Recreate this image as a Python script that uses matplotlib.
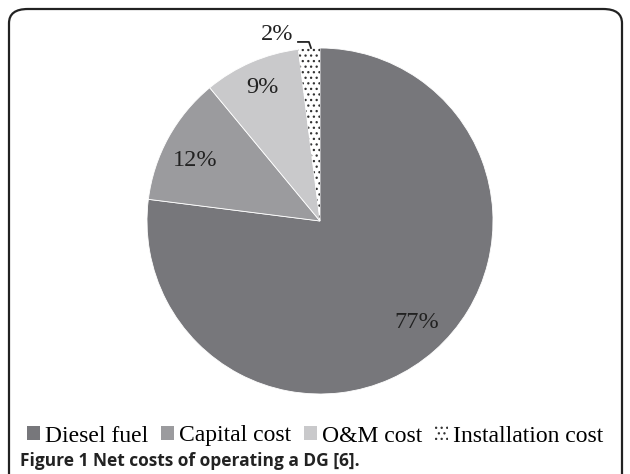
import numpy as np
import matplotlib
matplotlib.use('Agg')
import matplotlib.pyplot as plt
from matplotlib.patches import FancyBboxPatch, Patch

# data
labels = ['Diesel fuel', 'Capital cost', 'O&M cost', 'Installation cost']
shares = [77, 12, 9, 2]
pct_text = ['77%', '12%', '9%', '2%']
colors = ['#77777b', '#9b9b9e', '#c9c9cb', 'white']

plt.rcParams['hatch.linewidth'] = 0.9

W, H = 630, 474
fig = plt.figure(figsize=(W / 100, H / 100), dpi=100)

# rounded frame around the whole figure
frame = FancyBboxPatch((9 / W, -0.05), (622 - 9) / W, (H - 9) / H + 0.05,
                       boxstyle='round,pad=0,rounding_size=0.03',
                       transform=fig.transFigure, fill=False,
                       edgecolor='#222222', linewidth=1.6)
fig.patches.append(frame)

# pie axes, placed in pixels
cx, cy, r = 320, 221, 173
ax = fig.add_axes([(cx - r) / W, (H - cy - r) / H, 2 * r / W, 2 * r / H])
wedges, _ = ax.pie(shares, colors=colors, startangle=90, counterclock=False,
                   wedgeprops=dict(edgecolor='white', linewidth=0.6))
wedges[3].set_hatch('...')
wedges[3].set_edgecolor('#333333')
wedges[3].set_linewidth(0)
ax.set_xlim(-1, 1)
ax.set_ylim(-1, 1)
ax.set_aspect('equal')
ax.axis('off')

# label radius and angle shift per slice
rfac = [0.81, 0.80, 0.84]
ashift = [2, 3, 0]
for w, t, rf, da in zip(wedges[:3], pct_text[:3], rfac, ashift):
    a = np.deg2rad((w.theta1 + w.theta2) / 2 + da)
    ax.text(rf * np.cos(a), rf * np.sin(a), t, ha='center', va='center',
            fontsize=17.5, family='Liberation Serif', color='#222222')

# small slice label with leader line
ax.text(-0.25, 1.08, pct_text[3], ha='center', va='center', fontsize=17.5,
        family='Liberation Serif', color='#222222', clip_on=False)
ax.plot([-0.127, -0.064, -0.052], [1.035, 1.035, 1.0], color='#222222',
        lw=1.3, clip_on=False)

handles = [Patch(facecolor=c, edgecolor='none') for c in colors[:3]]
handles.append(Patch(facecolor='white', edgecolor='#333333', hatch='...', linewidth=0))
fig.legend(handles, labels, loc='center', bbox_to_anchor=(0.5, (H - 436) / H),
           ncol=4, frameon=False, handlelength=0.55, handleheight=0.55,
           handletextpad=0.2, columnspacing=0.55,
           prop=dict(family='Liberation Serif', size=17))

fig.text(20 / W, (H - 461) / H, 'Figure 1 Net costs of operating a DG [6].',
         ha='left', va='center', fontsize=12.5, fontweight='bold',
         family='Open Sans', color='#222222')

fig.savefig('out.png', dpi=100)
